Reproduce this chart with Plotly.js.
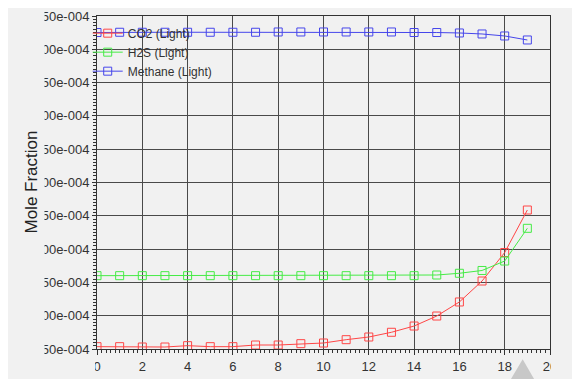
<!DOCTYPE html>
<html>
<head>
<meta charset="utf-8">
<script src="https://cdn.plot.ly/plotly-3.0.1.min.js"></script>
<style>
  html, body { margin: 0; padding: 0; background: #ffffff; width: 572px; height: 379px; overflow: hidden; }
  #chart { position: absolute; left: 8px; top: 8px; width: 564px; height: 371px; }
</style>
</head>
<body>
<div id="chart"></div>
<script>
// Stage index along the x axis
const stages = [0, 1, 2, 3, 4, 5, 6, 7, 8, 9, 10, 11, 12, 13, 14, 15, 16, 17, 18, 19];

// Light-phase mole fractions per stage
const co2Light = [1.535e-4, 1.535e-4, 1.530e-4, 1.530e-4, 1.550e-4, 1.535e-4, 1.535e-4, 1.560e-4, 1.560e-4, 1.580e-4,
                  1.590e-4, 1.640e-4, 1.680e-4, 1.751e-4, 1.845e-4, 1.995e-4, 2.206e-4, 2.521e-4, 2.949e-4, 3.587e-4];
const h2sLight = [2.601e-4, 2.601e-4, 2.601e-4, 2.601e-4, 2.601e-4, 2.601e-4, 2.601e-4, 2.601e-4, 2.601e-4, 2.601e-4,
                  2.601e-4, 2.601e-4, 2.601e-4, 2.601e-4, 2.601e-4, 2.611e-4, 2.637e-4, 2.679e-4, 2.821e-4, 3.312e-4];
const methaneLight = [6.252e-4, 6.256e-4, 6.256e-4, 6.256e-4, 6.256e-4, 6.256e-4, 6.256e-4, 6.256e-4, 6.260e-4, 6.260e-4,
                      6.260e-4, 6.260e-4, 6.260e-4, 6.260e-4, 6.252e-4, 6.252e-4, 6.245e-4, 6.230e-4, 6.200e-4, 6.140e-4];

// Axis ticks
const yTickVals = [1.5e-4, 2.0e-4, 2.5e-4, 3.0e-4, 3.5e-4, 4.0e-4, 4.5e-4, 5.0e-4, 5.5e-4, 6.0e-4, 6.5e-4];
const yTickText = ["1.50e-004", "2.00e-004", "2.50e-004", "3.00e-004", "3.50e-004", "4.00e-004",
                   "4.50e-004", "5.00e-004", "5.50e-004", "6.00e-004", "6.50e-004"];
const xTickVals = [0, 2, 4, 6, 8, 10, 12, 14, 16, 18, 20];
const xTickText = ["0", "2", "4", "6", "8", "10", "12", "14", "16", "18", "20"];

const seriesNames = ["CO2 (Light)", "H2S (Light)", "Methane (Light)"];
const seriesValues = [co2Light, h2sLight, methaneLight];
const seriesColors = ["rgb(255,70,70)", "rgb(70,235,70)", "rgb(70,70,235)"];

const traces = seriesNames.map(function (name, i) {
  return {
    type: "scatter",
    mode: "lines+markers",
    name: name,
    x: stages,
    y: seriesValues[i],
    line: { color: seriesColors[i], width: 1 },
    marker: { symbol: "square-open", size: 8, color: seriesColors[i], line: { width: 1, color: seriesColors[i] } }
  };
});

const font = "Arial, 'Liberation Sans', sans-serif";
const bg = "#f1f1f1";

const layout = {
  width: 564,
  height: 371,
  margin: { l: 89, r: 22, t: 8, b: 30 },
  paper_bgcolor: bg,
  plot_bgcolor: bg,
  font: { family: font, size: 13, color: "#333333" },
  showlegend: true,
  legend: {
    x: -0.0205, xanchor: "left",
    y: 0.992, yanchor: "top",
    bgcolor: "rgba(0,0,0,0)",
    borderwidth: 0,
    font: { family: font, size: 12, color: "#333333" },
    itemwidth: 30,
    tracegroupgap: 0
  },
  xaxis: {
    range: [0, 20],
    tickvals: xTickVals,
    ticktext: xTickText,
    ticks: "outside",
    ticklen: 5,
    tickcolor: "#333333",
    showline: true,
    mirror: true,
    linecolor: "#333333",
    linewidth: 1,
    showgrid: true,
    gridcolor: "#4a4a4a",
    gridwidth: 1,
    zeroline: false,
    tickfont: { family: font, size: 13, color: "#333333" },
    minor: { dtick: 0.2, ticks: "outside", ticklen: 3, tickcolor: "#333333", showgrid: false }
  },
  yaxis: {
    range: [1.5e-4, 6.5e-4],
    tickvals: yTickVals,
    ticktext: yTickText,
    ticks: "outside",
    ticklen: 4,
    tickcolor: "#333333",
    showline: true,
    mirror: true,
    linecolor: "#333333",
    linewidth: 1,
    showgrid: true,
    gridcolor: "#4a4a4a",
    gridwidth: 1,
    zeroline: false,
    tickfont: { family: font, size: 13, color: "#333333" },
    minor: { dtick: 0.05e-4, ticks: "outside", ticklen: 3, tickcolor: "#333333", showgrid: false }
  },
  annotations: [{
    text: "Mole Fraction",
    xref: "paper", yref: "paper",
    x: -0.1435, y: 0.503,
    xanchor: "center", yanchor: "middle",
    textangle: -90,
    showarrow: false,
    font: { family: font, size: 17, color: "#222222" }
  }],
  shapes: [{
    type: "path",
    xref: "paper", yref: "paper",
    path: "M 0.9397 -0.0309 L 0.9669 -0.0950 L 0.9117 -0.0950 Z",
    fillcolor: "#c8c8c8",
    line: { width: 0 },
    layer: "below"
  }]
};

const gd = document.getElementById("chart");
Plotly.newPlot(gd, traces, layout, { staticPlot: true, displayModeBar: false }).then(function () {
  // Tick labels sit inside a clipping window, as in the host application's chart frame
  const svg = gd.querySelector("svg.main-svg");
  const ns = "http://www.w3.org/2000/svg";
  let defs = svg.querySelector("defs");
  if (!defs) { defs = document.createElementNS(ns, "defs"); svg.insertBefore(defs, svg.firstChild); }
  function addClip(id, x, y, w, h) {
    const cp = document.createElementNS(ns, "clipPath");
    cp.setAttribute("id", id);
    cp.setAttribute("clipPathUnits", "userSpaceOnUse");
    const r = document.createElementNS(ns, "rect");
    r.setAttribute("x", x); r.setAttribute("y", y);
    r.setAttribute("width", w); r.setAttribute("height", h);
    cp.appendChild(r);
    defs.appendChild(cp);
  }
  addClip("ylabelclip", 36.5, 0, 600, 400);
  addClip("xlabelclip", 87, 0, 456, 400);
  gd.querySelectorAll("g.yaxislayer-above").forEach(function (g) { g.setAttribute("clip-path", "url(#ylabelclip)"); });
  gd.querySelectorAll("g.xaxislayer-above").forEach(function (g) { g.setAttribute("clip-path", "url(#xlabelclip)"); });
});
</script>
</body>
</html>
